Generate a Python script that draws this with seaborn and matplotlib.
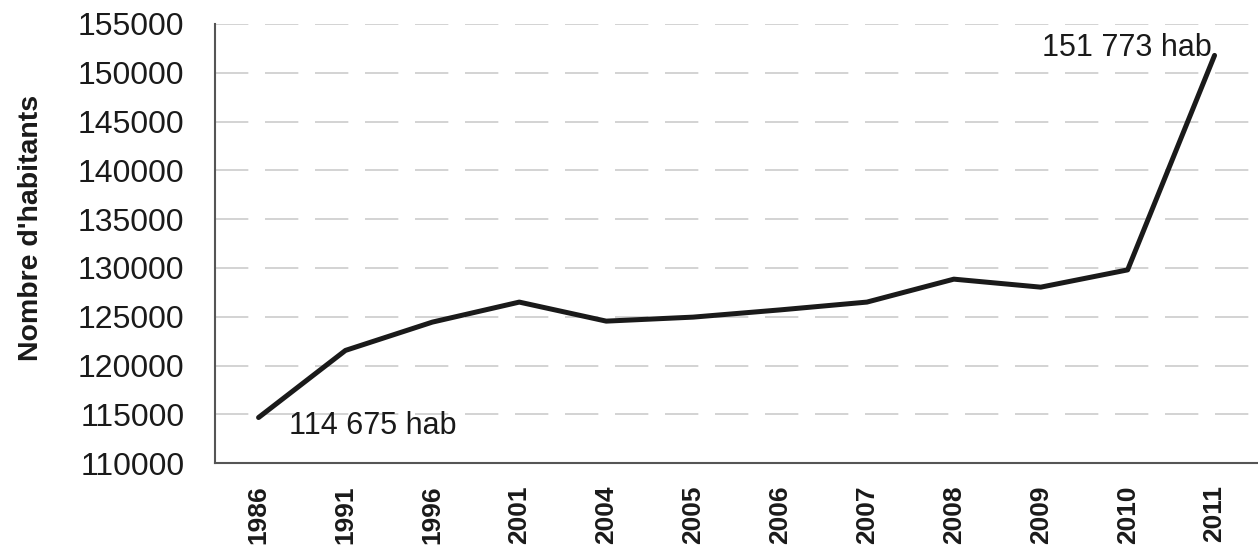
import matplotlib
matplotlib.use("Agg")
import matplotlib.pyplot as plt
import seaborn as sns
import pandas as pd

years = ["1986", "1991", "1996", "2001", "2004", "2005", "2006",
         "2007", "2008", "2009", "2010", "2011"]
population = [114675, 121550, 124450, 126500, 124550, 124960, 125700,
              126500, 128850, 128030, 129800, 151773]
y_ticks = list(range(110000, 155001, 5000))

sns.set_theme(style="white")
plt.rcParams["font.family"] = ["Liberation Sans", "DejaVu Sans"]

df = pd.DataFrame({"Année": pd.Categorical(years, categories=years, ordered=True),
                   "Habitants": population})

fig = plt.figure(figsize=(12.58, 5.56), dpi=100)
ax = fig.add_axes([0.171, 0.167, 0.829, 0.790])

sns.lineplot(data=df, x="Année", y="Habitants", ax=ax, color="#1a1a1a",
             linewidth=3.6, sort=False)

ax.set_xlim(-0.5, len(years) - 0.5)
ax.set_ylim(110000, 155000)
ax.set_yticks(y_ticks)
ax.set_yticklabels([str(v) for v in y_ticks], fontsize=23, color="#1a1a1a")
ax.set_xticks(range(len(years)))
ax.set_xticklabels(years, rotation=90, fontsize=19, fontweight="bold",
                   color="#1a1a1a")
ax.tick_params(axis="y", length=0, pad=22)
ax.tick_params(axis="x", length=0, pad=16)

ax.yaxis.grid(True, color="#cccccc", linestyle=(0, (20, 10)), linewidth=1.2)
ax.xaxis.grid(False)
ax.set_axisbelow(True)

for side in ("top", "right"):
    ax.spines[side].set_visible(False)
for side in ("left", "bottom"):
    ax.spines[side].set_color("#555555")
    ax.spines[side].set_linewidth(1.5)

ax.set_xlabel("")
ax.set_ylabel("Nombre d'habitants", fontsize=20.5, fontweight="bold",
              color="#1a1a1a")
ax.yaxis.set_label_coords(-0.164, 0.535)

ax.text(0.35, 113850, "114 675 hab", fontsize=22, color="#1a1a1a",
        ha="left", va="center")
ax.text(10.97, 152500, "151 773 hab", fontsize=22, color="#1a1a1a",
        ha="right", va="center")

fig.savefig("out.png", dpi=100)
